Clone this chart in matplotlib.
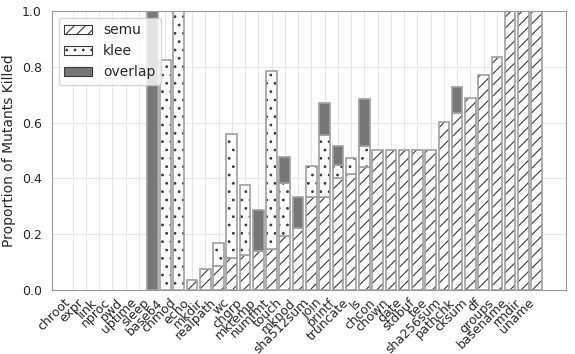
import numpy as np
import matplotlib
matplotlib.use('Agg')
from matplotlib import pyplot as plt
import seaborn as sns

# tools (x axis), ordered as in the figure
tools = ['chroot', 'expr', 'link', 'nproc', 'pwd', 'uptime', 'sleep', 'base64',
         'chmod', 'echo', 'mkdir', 'realpath', 'wc', 'chgrp', 'mktemp', 'numfmt',
         'touch', 'mknod', 'sha512sum', 'join', 'printf', 'truncate', 'ls',
         'chcon', 'chown', 'date', 'stdbuf', 'tee', 'sha256sum', 'pathchk',
         'cksum', 'df', 'groups', 'basename', 'rmdir', 'uname']

# proportion killed only by semu
semu = [0, 0, 0, 0, 0, 0, 0, 0,
        0, 0.036, 0.074, 0.086, 0.116, 0.125, 0.141, 0.146,
        0.194, 0.223, 0.334, 0.334, 0.400, 0.415, 0.440,
        0.5, 0.5, 0.5, 0.5, 0.5, 0.601, 0.636,
        0.687, 0.771, 0.834, 1.0, 1.0, 1.0]
# proportion killed only by klee
klee = [0, 0, 0, 0, 0, 0, 0, 0.824,
        1.0, 0, 0, 0.081, 0.442, 0.251, 0, 0.640,
        0.188, 0, 0.112, 0.222, 0.048, 0.057, 0.077,
        0, 0, 0, 0, 0, 0, 0,
        0, 0, 0, 0, 0, 0]
# proportion killed by both
overlap = [0, 0, 0, 0, 0, 0, 1.0, 0,
           0, 0, 0, 0, 0, 0, 0.146, 0,
           0.094, 0.111, 0, 0.113, 0.069, 0, 0.166,
           0, 0, 0, 0, 0, 0, 0.093,
           0, 0, 0, 0, 0, 0]

sns.set_style('whitegrid')
plt.rcParams['font.family'] = ['DejaVu Sans']
plt.rcParams['hatch.linewidth'] = 0.8

semu = np.array(semu)
klee = np.array(klee)
overlap = np.array(overlap)
x = np.arange(len(tools))

fig = plt.figure(figsize=(5.75, 3.54), dpi=100)
ax = fig.add_axes([0.09, 0.181, 0.894, 0.788])

w = 0.8
ec = '#a0a0a0'      # bar outline
hc = '#3a3a3a'      # hatch colour


def stack(h, bottom, hatch, face, label):
    m = h > 0
    # hatch layer (hatch takes the edge colour), then light outline on top
    ax.bar(x[m], h[m], w, bottom=bottom[m], color=face, edgecolor=hc,
           hatch=hatch, linewidth=0)
    ax.bar(x[m], h[m], w, bottom=bottom[m], fill=False, edgecolor=ec,
           linewidth=1.2)
    # proxy for the legend
    ax.bar([0], [0], 0, color=face, edgecolor=hc, hatch=hatch,
           linewidth=0.8, label=label)


zero = np.zeros(len(tools))
stack(semu, zero, '///', 'white', 'semu')
stack(klee, semu, '..', 'white', 'klee')
stack(overlap, semu + klee, None, '#777777', 'overlap')

ax.set_xticks(x)
ax.set_xticklabels(tools, rotation=45, ha='right', fontsize=9)
ax.set_xlim(-1.58, 37.2)
ax.set_ylim(0, 1.0)
ax.set_yticks([0.0, 0.2, 0.4, 0.6, 0.8, 1.0])
ax.tick_params(axis='y', labelsize=9)
ax.tick_params(axis='x', pad=1)
ax.set_ylabel('Proportion of Mutants Killed', fontsize=10)
ax.grid(True, color='#e6e6e6', linewidth=0.8)
ax.set_axisbelow(True)
for s in ax.spines.values():
    s.set_color('#999999')

ax.legend(loc='upper left', fontsize=10, frameon=True, handlelength=2.0)

fig.savefig('out.png', dpi=100)
